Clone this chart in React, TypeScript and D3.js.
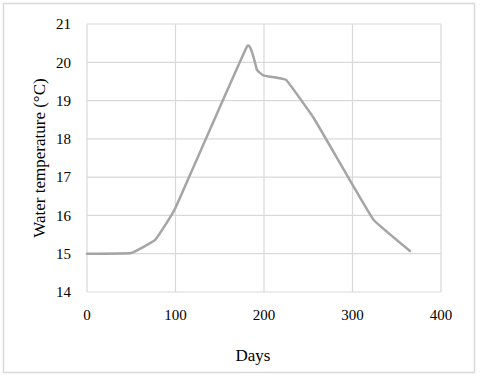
import React, { useEffect, useRef } from "react";
import * as d3 from "d3";

const days = [0, 50, 77, 100, 181, 192, 200, 225, 256, 290, 324, 365];
const temps = [15, 15.02, 15.36, 16.2, 20.42, 19.8, 19.65, 19.54, 18.55, 17.2, 15.88, 15.07];
const xTicks = [0, 100, 200, 300, 400];
const yTicks = [14, 15, 16, 17, 18, 19, 20, 21];

const App = () => {
  const svgRef = useRef<SVGSVGElement>(null);

  useEffect(() => {
    const svg = d3.select(svgRef.current);
    svg.selectAll("*").remove();

    const left = 87;
    const right = 441;
    const top = 24;
    const bottom = 292;

    svg
      .append("rect")
      .attr("x", 3.5)
      .attr("y", 3.5)
      .attr("width", 471)
      .attr("height", 369)
      .attr("fill", "white")
      .attr("stroke", "#d9d9d9")
      .attr("stroke-width", 1.5);

    const x = d3.scaleLinear().domain([0, 400]).range([left, right]);
    const y = d3.scaleLinear().domain([14, 21]).range([bottom, top]);

    const font = "'Liberation Serif', 'DejaVu Serif', serif";

    // grid
    svg
      .append("g")
      .selectAll("line")
      .data(yTicks)
      .enter()
      .append("line")
      .attr("x1", left)
      .attr("x2", right)
      .attr("y1", (d) => y(d))
      .attr("y2", (d) => y(d))
      .attr("stroke", "#d9d9d9")
      .attr("stroke-width", 1.2);

    svg
      .append("g")
      .selectAll("line")
      .data(xTicks)
      .enter()
      .append("line")
      .attr("x1", (d) => x(d))
      .attr("x2", (d) => x(d))
      .attr("y1", top)
      .attr("y2", bottom)
      .attr("stroke", "#d9d9d9")
      .attr("stroke-width", 1.2);

    // tick labels
    svg
      .append("g")
      .selectAll("text")
      .data(yTicks)
      .enter()
      .append("text")
      .attr("x", 71)
      .attr("y", (d) => y(d))
      .attr("dy", "0.35em")
      .attr("text-anchor", "end")
      .style("font-family", font)
      .style("font-size", "15px")
      .attr("fill", "#000")
      .text((d) => d);

    svg
      .append("g")
      .selectAll("text")
      .data(xTicks)
      .enter()
      .append("text")
      .attr("x", (d) => x(d))
      .attr("y", 315)
      .attr("dy", "0.35em")
      .attr("text-anchor", "middle")
      .style("font-family", font)
      .style("font-size", "15px")
      .attr("fill", "#000")
      .text((d) => d);

    // axis titles
    svg
      .append("text")
      .attr("x", 253)
      .attr("y", 355)
      .attr("dy", "0.35em")
      .attr("text-anchor", "middle")
      .style("font-family", font)
      .style("font-size", "17px")
      .attr("fill", "#000")
      .text("Days");

    svg
      .append("text")
      .attr("transform", `translate(39,158) rotate(-90)`)
      .attr("dy", "0.35em")
      .attr("text-anchor", "middle")
      .style("font-family", font)
      .style("font-size", "17px")
      .attr("fill", "#000")
      .text("Water temperature (°C)");

    // line, nearly straight segments with slight rounding like the original
    const points = days.map((d, i) => [d, temps[i]] as [number, number]);
    const line = d3
      .line<[number, number]>()
      .x((d) => x(d[0]))
      .y((d) => y(d[1]))
      .curve(d3.curveCardinal.tension(0.75));

    svg
      .append("path")
      .datum(points)
      .attr("d", line)
      .attr("fill", "none")
      .attr("stroke", "#a5a5a5")
      .attr("stroke-width", 2.5)
      .attr("stroke-linejoin", "round")
      .attr("stroke-linecap", "round");
  }, []);

  return (
    <svg
      ref={svgRef}
      width={480}
      height={377}
      style={{ position: "absolute", left: 0, top: 0, background: "white" }}
    ></svg>
  );
};

export default App;
